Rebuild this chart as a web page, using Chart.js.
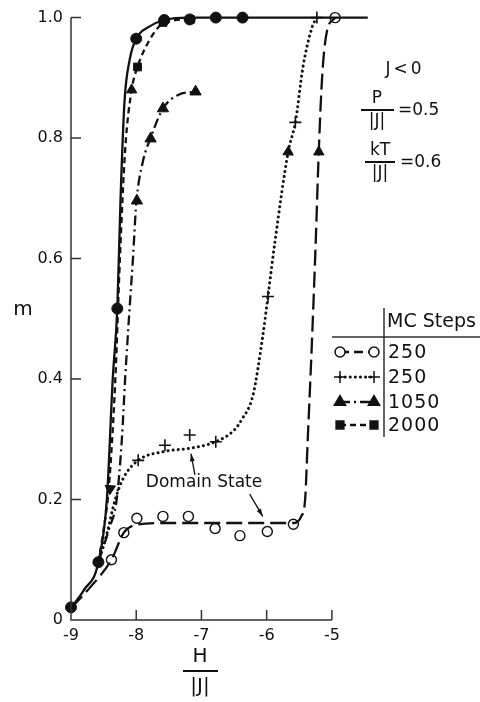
<!DOCTYPE html>
<html>
<head>
<meta charset="utf-8">
<script src="https://cdn.jsdelivr.net/npm/chart.js@4.4.0/dist/chart.umd.min.js"></script>
<style>
  html, body { margin: 0; padding: 0; background: #fff; }
  #wrap { position: relative; width: 480px; height: 702px; }
</style>
</head>
<body>
<div id="wrap"><canvas id="hysteresis" width="480" height="702"></canvas></div>
<script>
// Axis ticks
const xTicks = [-9, -8, -7, -6, -5];
const yTicks = [0, 0.2, 0.4, 0.6, 0.8, 1.0];

// Measured points (markers)
const eqH = [-9.0, -8.58, -8.29, -8.0, -7.57, -7.18, -6.78, -6.37];
const eqM = [0.021, 0.096, 0.517, 0.965, 0.996, 0.997, 1.0, 1.0];
const openH = [-8.38, -8.19, -7.99, -7.59, -7.2, -6.79, -6.41, -5.99, -5.59, -4.95];
const openM = [0.100, 0.145, 0.169, 0.172, 0.172, 0.152, 0.140, 0.147, 0.159, 1.0];
const plusH = [-7.97, -7.56, -7.18, -6.78, -5.98, -5.56, -5.23];
const plusM = [0.265, 0.290, 0.307, 0.296, 0.537, 0.826, 1.0];
const triH = [-7.99, -7.78, -7.59, -7.09];
const triM = [0.696, 0.799, 0.849, 0.877];
const sqH = [-7.98, -7.59, -7.17];
const sqM = [0.918, 0.992, 0.997];

// Curves drawn through the points
const solidH = [-9.0, -8.8, -8.58, -8.45, -8.36, -8.29, -8.24, -8.18, -8.1, -8.0, -7.8, -7.57, -7.2, -6.5, -4.45];
const solidM = [0.02, 0.05, 0.096, 0.2, 0.4, 0.517, 0.7, 0.86, 0.93, 0.965, 0.985, 0.996, 1.0, 1.0, 1.0];
const longH = [-9.0, -8.7, -8.38, -8.19, -8.0, -7.6, -7.0, -6.0, -5.58, -5.47, -5.41, -5.37, -5.31, -5.25, -5.2, -5.15, -5.08, -4.95];
const longM = [0.02, 0.055, 0.1, 0.145, 0.158, 0.161, 0.161, 0.161, 0.161, 0.172, 0.2, 0.3, 0.45, 0.62, 0.78, 0.9, 0.975, 1.0];
const dotH = [-8.58, -8.45, -8.33, -8.2, -7.97, -7.56, -7.18, -6.78, -6.5, -6.38, -6.21, -6.06, -5.98, -5.87, -5.67, -5.56, -5.44, -5.3, -5.23];
const dotM = [0.096, 0.143, 0.197, 0.235, 0.265, 0.28, 0.285, 0.296, 0.315, 0.333, 0.373, 0.471, 0.537, 0.63, 0.777, 0.826, 0.92, 0.985, 1.0];
const ddH = [-8.58, -8.42, -8.3, -8.22, -8.17, -8.1, -8.05, -8.0, -7.9, -7.78, -7.59, -7.35, -7.09];
const ddM = [0.096, 0.15, 0.2, 0.3, 0.4, 0.52, 0.6, 0.69, 0.76, 0.8, 0.849, 0.872, 0.877];
const sdH = [-8.58, -8.5, -8.42, -8.32, -8.25, -8.17, -8.07, -7.98, -7.8, -7.59, -7.17];
const sdM = [0.096, 0.15, 0.22, 0.4, 0.6, 0.78, 0.88, 0.918, 0.962, 0.99, 0.998];

// Direction arrows on the curves
const arrowH = [-8.40, -8.07, -5.67, -5.20];
const arrowM = [0.218, 0.88, 0.777, 0.777];
const arrowRot = [183, 0, 2, 0];

const legendLabels = ['250', '250', '1050', '2000'];

const FONT = '"DejaVu Sans", "Liberation Sans", Arial, sans-serif';
const INK = '#111';

function pts(xs, ys) {
    return xs.map((x, i) => ({ x: x, y: ys[i] }));
}

function curve(xs, ys, dash, cap) {
    return {
        data: pts(xs, ys),
        showLine: true,
        borderColor: INK,
        borderWidth: dash && dash[0] < 1 ? 3 : 2.3,
        borderDash: dash || [],
        borderCapStyle: cap || 'butt',
        cubicInterpolationMode: 'monotone',
        pointRadius: 0,
        clip: false,
    };
}

function markers(xs, ys, style, radius, fill, width) {
    return {
        data: pts(xs, ys),
        showLine: false,
        pointStyle: style,
        pointRadius: radius,
        pointBackgroundColor: fill,
        pointBorderColor: INK,
        pointBorderWidth: width,
        clip: false,
    };
}

const datasets = [
    curve(solidH, solidM, null),
    curve(longH, longM, [16, 6]),
    curve(dotH, dotM, [0.1, 5], 'round'),
    curve(ddH, ddM, [10, 4, 2, 4]),
    curve(sdH, sdM, [6, 4]),
    markers(openH, openM, 'circle', 5, '#fff', 1.4),
    markers(plusH, plusM, 'cross', 6, INK, 1.6),
    markers(triH, triM, 'triangle', 6.5, INK, 1),
    markers(sqH, sqM, 'rect', 5.5, INK, 1),
    markers(eqH, eqM, 'circle', 5.5, INK, 1),
    {
        data: pts(arrowH, arrowM),
        showLine: false,
        pointStyle: 'triangle',
        pointRadius: 6,
        pointRotation: arrowRot,
        pointBackgroundColor: INK,
        pointBorderColor: INK,
        pointBorderWidth: 1,
        clip: false,
    },
];

// Axes lines, inward ticks, annotations and the MC-steps legend
const decorations = {
    id: 'decorations',
    afterDraw(chart) {
        const ctx = chart.ctx;
        const xs = chart.scales.x;
        const ys = chart.scales.y;
        const x0 = xs.getPixelForValue(-9);
        const y0 = ys.getPixelForValue(0);

        ctx.save();
        ctx.strokeStyle = '#333';
        ctx.lineWidth = 1.5;
        ctx.beginPath();
        ctx.moveTo(x0, ys.getPixelForValue(1));
        ctx.lineTo(x0, y0);
        ctx.lineTo(xs.getPixelForValue(-5), y0);
        xTicks.forEach(v => {
            const px = xs.getPixelForValue(v);
            ctx.moveTo(px, y0);
            ctx.lineTo(px, y0 - 10);
        });
        yTicks.forEach(v => {
            const py = ys.getPixelForValue(v);
            ctx.moveTo(x0, py);
            ctx.lineTo(x0 + 10, py);
        });
        ctx.stroke();

        ctx.fillStyle = INK;
        ctx.strokeStyle = INK;
        ctx.textAlign = 'center';
        ctx.textBaseline = 'middle';

        // axis titles
        ctx.font = '20px ' + FONT;
        ctx.fillText('m', 23, 310);
        ctx.fillText('H', 200, 657);
        ctx.fillText('|J|', 200, 687);
        ctx.lineWidth = 2;
        ctx.beginPath();
        ctx.moveTo(183, 671);
        ctx.lineTo(218, 671);
        ctx.stroke();

        // parameters
        ctx.font = '17px ' + FONT;
        ctx.letterSpacing = '3px';
        ctx.fillText('J<0', 405, 70);
        ctx.letterSpacing = '0px';
        ctx.fillText('P', 377, 99);
        ctx.fillText('|J|', 377, 122);
        ctx.fillText('kT', 380, 151);
        ctx.fillText('|J|', 380, 174);
        ctx.textAlign = 'left';
        ctx.fillText('=0.5', 398, 111);
        ctx.fillText('=0.6', 400, 163);
        ctx.beginPath();
        ctx.moveTo(361, 110);
        ctx.lineTo(394, 110);
        ctx.moveTo(365, 162);
        ctx.lineTo(395, 162);
        ctx.stroke();

        // Domain State label with arrows
        ctx.textAlign = 'center';
        ctx.font = '17px ' + FONT;
        ctx.fillText('Domain State', xs.getPixelForValue(-6.96), ys.getPixelForValue(0.228));
        drawArrow(ctx, xs.getPixelForValue(-7.10), ys.getPixelForValue(0.241),
            xs.getPixelForValue(-7.16), ys.getPixelForValue(0.276));
        drawArrow(ctx, xs.getPixelForValue(-6.26), ys.getPixelForValue(0.209),
            xs.getPixelForValue(-6.06), ys.getPixelForValue(0.172));

        // legend table
        ctx.lineWidth = 1.5;
        ctx.strokeStyle = '#333';
        ctx.beginPath();
        ctx.moveTo(384, 308);
        ctx.lineTo(384, 437);
        ctx.moveTo(332, 337);
        ctx.lineTo(480, 337);
        ctx.stroke();
        ctx.textAlign = 'left';
        ctx.font = '19px ' + FONT;
        ctx.fillText('MC Steps', 387, 322);
        const rows = [352, 377, 402, 425];
        const styles = [
            { dash: [9, 5], cap: 'butt', w: 2.3, point: 'circle', r: 5, fill: '#fff' },
            { dash: [0.1, 5], cap: 'round', w: 3, point: 'cross', r: 6, fill: INK },
            { dash: [10, 4, 2, 4], cap: 'butt', w: 2.3, point: 'triangle', r: 6.5, fill: INK },
            { dash: [6, 4], cap: 'butt', w: 2.3, point: 'rect', r: 5.5, fill: INK },
        ];
        rows.forEach((y, i) => {
            const s = styles[i];
            ctx.strokeStyle = INK;
            ctx.lineWidth = s.w;
            ctx.lineCap = s.cap;
            ctx.setLineDash(s.dash);
            ctx.beginPath();
            ctx.moveTo(340, y);
            ctx.lineTo(374, y);
            ctx.stroke();
            ctx.setLineDash([]);
            ctx.lineCap = 'butt';
            ctx.fillStyle = s.fill;
            ctx.lineWidth = 1.5;
            [340, 374].forEach(px => {
                Chart.helpers.drawPoint(ctx, { pointStyle: s.point, radius: s.r, rotation: 0, borderWidth: 1.5 }, px, y);
            });
            ctx.fillStyle = INK;
            ctx.font = '19px ' + FONT;
            ctx.letterSpacing = '1px';
            ctx.fillText(legendLabels[i], 388, y + 1);
            ctx.letterSpacing = '0px';
        });
        ctx.restore();
    }
};

function drawArrow(ctx, x1, y1, x2, y2) {
    const a = Math.atan2(y2 - y1, x2 - x1);
    ctx.save();
    ctx.lineWidth = 1.3;
    ctx.beginPath();
    ctx.moveTo(x1, y1);
    ctx.lineTo(x2, y2);
    ctx.stroke();
    ctx.beginPath();
    ctx.moveTo(x2, y2);
    ctx.lineTo(x2 - 8 * Math.cos(a - 0.3), y2 - 8 * Math.sin(a - 0.3));
    ctx.lineTo(x2 - 8 * Math.cos(a + 0.3), y2 - 8 * Math.sin(a + 0.3));
    ctx.closePath();
    ctx.fill();
    ctx.restore();
}

new Chart(document.getElementById('hysteresis'), {
    type: 'scatter',
    data: { datasets: datasets },
    options: {
        responsive: false,
        animation: false,
        devicePixelRatio: 1,
        layout: { padding: { top: 11, right: 109, left: 0, bottom: 0 } },
        plugins: { legend: { display: false }, tooltip: { enabled: false } },
        scales: {
            x: {
                type: 'linear',
                min: -9,
                max: -4.4,
                afterBuildTicks: s => { s.ticks = xTicks.map(v => ({ value: v })); },
                afterFit: s => { s.height = 82; },
                grid: { display: false, drawTicks: false },
                border: { display: false },
                ticks: {
                    callback: v => String(v),
                    font: { family: FONT, size: 16 },
                    color: INK,
                    padding: 6,
                    maxRotation: 0,
                    autoSkip: false,
                },
            },
            y: {
                type: 'linear',
                min: 0,
                max: 1,
                afterBuildTicks: s => { s.ticks = yTicks.map(v => ({ value: v })); },
                afterFit: s => { s.width = 71; },
                grid: { display: false, drawTicks: false },
                border: { display: false },
                ticks: {
                    callback: v => v === 0 ? '0' : v.toFixed(1),
                    font: { family: FONT, size: 16 },
                    color: INK,
                    padding: 8,
                    autoSkip: false,
                },
            },
        },
    },
    plugins: [decorations],
});
</script>
</body>
</html>
